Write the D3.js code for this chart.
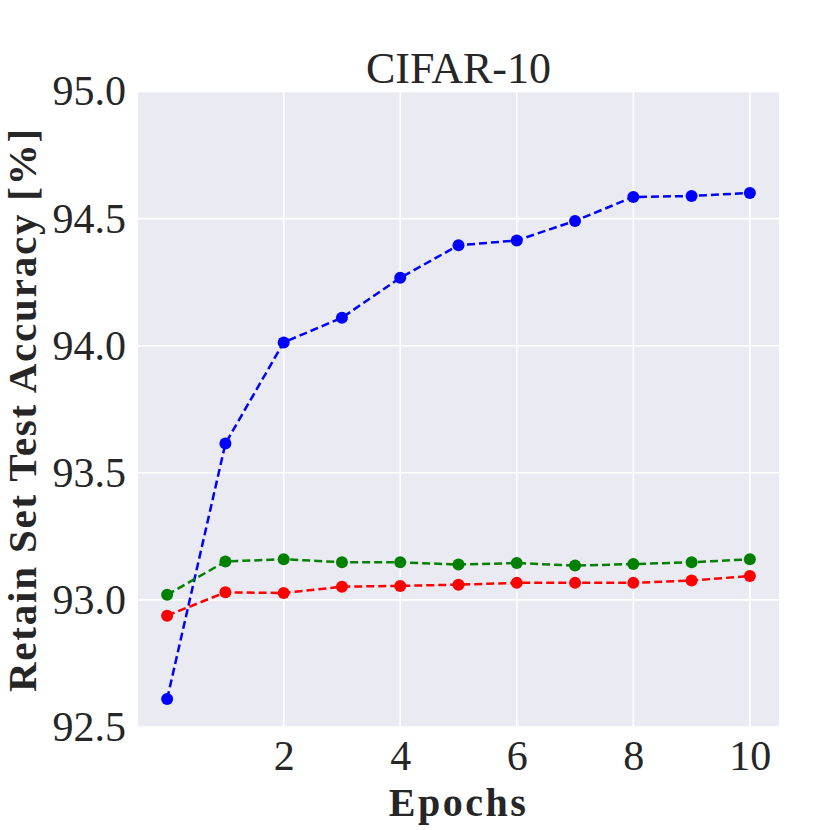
<!DOCTYPE html>
<html>
<head>
<meta charset="utf-8">
<script src="https://cdn.jsdelivr.net/npm/d3@7"></script>
<style>
  body { margin: 0; background: #fff; }
  text { font-family: "Liberation Serif", "DejaVu Serif", serif; fill: #262626; }
</style>
</head>
<body>
<div id="chart"></div>
<script>
// chart data
var epochs = [0, 1, 2, 3, 4, 5, 6, 7, 8, 9, 10];
var blueAcc = [92.61, 93.615, 94.013, 94.11, 94.267, 94.395, 94.414, 94.491, 94.585, 94.589, 94.601];
var greenAcc = [93.02, 93.151, 93.16, 93.148, 93.148, 93.139, 93.145, 93.135, 93.141, 93.148, 93.16];
var redAcc = [92.938, 93.03, 93.027, 93.052, 93.055, 93.06, 93.067, 93.067, 93.067, 93.076, 93.094];
var xTicks = [2, 4, 6, 8, 10];
var yTicks = [92.5, 93.0, 93.5, 94.0, 94.5, 95.0];

var seriesList = [
  { name: "blue", values: blueAcc, color: "#0000ff" },
  { name: "green", values: greenAcc, color: "#008000" },
  { name: "red", values: redAcc, color: "#ff0000" }
];

// svg size and plot area
var svgWidth = 830;
var svgHeight = 830;
var margin = { top: 92, right: 51, bottom: 103, left: 138 };
var chartWidth = svgWidth - margin.left - margin.right;
var chartHeight = svgHeight - margin.top - margin.bottom;

var svg = d3.select("#chart")
  .append("svg")
  .attr("width", svgWidth)
  .attr("height", svgHeight);

var chartGroup = svg.append("g")
  .attr("transform", `translate(${margin.left}, ${margin.top})`);

// scales
var xScale = d3.scaleLinear()
  .domain([-0.5, 10.5])
  .range([0, chartWidth]);

var yScale = d3.scaleLinear()
  .domain([92.5, 95.0])
  .range([chartHeight, -0.5]);

// background
chartGroup.append("rect")
  .attr("width", chartWidth)
  .attr("height", chartHeight)
  .attr("fill", "#eaeaf2");

// grid lines
chartGroup.selectAll(".ygrid")
  .data(yTicks)
  .enter()
  .append("line")
  .attr("x1", 0)
  .attr("x2", chartWidth)
  .attr("y1", d => yScale(d))
  .attr("y2", d => yScale(d))
  .attr("stroke", "#fff")
  .attr("stroke-width", 1.6);

chartGroup.selectAll(".xgrid")
  .data(xTicks)
  .enter()
  .append("line")
  .attr("x1", d => xScale(d))
  .attr("x2", d => xScale(d))
  .attr("y1", 0)
  .attr("y2", chartHeight)
  .attr("stroke", "#fff")
  .attr("stroke-width", 1.6);

// axes, only the labels are shown
var leftAxis = d3.axisLeft(yScale)
  .tickValues(yTicks)
  .tickFormat(d3.format(".1f"))
  .tickSize(0)
  .tickPadding(12);

var bottomAxis = d3.axisBottom(xScale)
  .tickValues(xTicks)
  .tickSize(0)
  .tickPadding(13);

var yAxisGroup = chartGroup.append("g").call(leftAxis);
var xAxisGroup = chartGroup.append("g")
  .attr("transform", `translate(0, ${chartHeight})`)
  .call(bottomAxis);

[yAxisGroup, xAxisGroup].forEach(function(g) {
  g.select(".domain").remove();
  g.selectAll("text")
    .attr("fill", "#262626")
    .style("font-family", "'Liberation Serif', 'DejaVu Serif', serif")
    .style("font-size", "42px");
});

// lines with markers
var drawLine = d3.line()
  .x((d, i) => xScale(epochs[i]))
  .y(d => yScale(d));

seriesList.forEach(function(s) {
  chartGroup.append("path")
    .attr("d", drawLine(s.values))
    .attr("fill", "none")
    .attr("stroke", s.color)
    .attr("stroke-width", 2.5)
    .attr("stroke-dasharray", "8,4");

  chartGroup.selectAll(".dot-" + s.name)
    .data(s.values)
    .enter()
    .append("circle")
    .attr("cx", (d, i) => xScale(epochs[i]))
    .attr("cy", d => yScale(d))
    .attr("r", 6)
    .attr("fill", s.color);
});

// title and axis labels
svg.append("text")
  .attr("x", margin.left + chartWidth / 2)
  .attr("y", 83)
  .attr("text-anchor", "middle")
  .style("font-size", "44px")
  .text("CIFAR-10");

svg.append("text")
  .attr("x", margin.left + chartWidth / 2)
  .attr("y", 816)
  .attr("text-anchor", "middle")
  .style("font-size", "40px")
  .style("font-weight", "bold")
  .style("letter-spacing", "2.5px")
  .text("Epochs");

svg.append("text")
  .attr("transform", `translate(36, ${margin.top + chartHeight / 2}) rotate(-90)`)
  .attr("text-anchor", "middle")
  .style("font-size", "41px")
  .style("font-weight", "bold")
  .style("letter-spacing", "1.8px")
  .text("Retain Set Test Accuracy [%]");
</script>
</body>
</html>
